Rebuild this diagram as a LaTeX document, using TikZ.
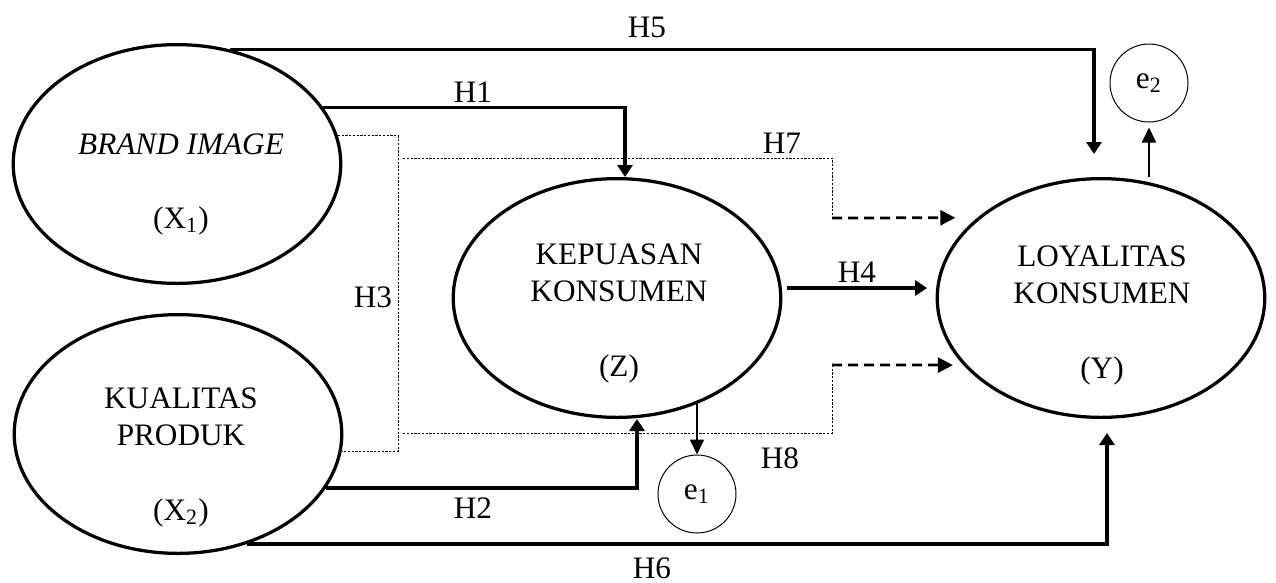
\documentclass[tikz,border=0pt]{standalone}
\usepackage{fontspec}
\setmainfont{Liberation Serif}
\usetikzlibrary{arrows.meta,shapes.geometric}

\begin{document}
\begin{tikzpicture}[x=0.4pt,y=-0.4pt,
  var/.style={ellipse,draw,line width=1.3pt,minimum width=131pt,minimum height=95.5pt,inner sep=0pt},
  err/.style={circle,draw,line width=0.4pt,minimum size=31.2pt,inner sep=0pt,font=\fontsize{12.5}{14}\selectfont},
  txt/.style={anchor=north,inner sep=0pt,align=center,font=\fontsize{12.5}{14.8}\selectfont},
  hyp/.style={inner sep=0pt,font=\fontsize{12.5}{14}\selectfont},
  direct/.style={line width=1.3pt,-{Triangle[length=4.8pt,width=6pt]}},
  resid/.style={line width=0.8pt,-{Triangle[length=6pt,width=5.6pt]}},
  med/.style={line width=0.4pt,dash pattern=on 0.9pt off 0.6pt},
  medtip/.style={line width=1.1pt,dash pattern=on 4pt off 2.4pt,-{Triangle[length=6pt,width=6pt]}}]
  \useasboundingbox (0,0) rectangle (1276,582);
  % latent variables
  \node[var] (bi) at (177,164) {};
  \node[var] (kq) at (178,434) {};
  \node[var] (kp) at (617,298) {};
  \node[var] (ly) at (1101,298) {};
  \node[txt] (bitxt) at (181,133) {\textit{BRAND IMAGE}\\[14.8pt](X\textsubscript{1})};
  \node[txt] (kqtxt) at (181,387) {KUALITAS\\PRODUK\\[15.3pt](X\textsubscript{2})};
  \node[txt] (kptxt) at (619,243) {KEPUASAN\\KONSUMEN\\[15.3pt](Z)};
  \node[txt] (lytxt) at (1102,245) {LOYALITAS\\KONSUMEN\\[15.3pt](Y)};
  % error terms
  \node[err] (e1) at (697,494) {e\textsubscript{1}};
  \node[err] (e2) at (1149,83) {e\textsubscript{2}};
  % direct effects
  \draw[direct] (bi.21) -| ([xshift=3.2pt]kp.north);
  \draw[direct] (kq.-20) -| ([xshift=8pt]kp.south);
  \draw[direct,shorten <=2pt,shorten >=3.4pt] ([yshift=4pt]kp.east) -- ([yshift=4pt]ly.west);
  \draw[direct,shorten >=9.2pt] (bi.65) -| ([xshift=-2.8pt]ly.north);
  \draw[direct,shorten >=5.6pt] (kq.-58) -| ([xshift=2.4pt]ly.south);
  % residuals
  \draw[resid] (e1.north |- kp.-52) -- (e1.north);
  \draw[resid,shorten >=2pt] (ly.north -| e2.south) -- (e2.south);
  % mediation paths
  \coordinate (h3x) at (398,0);
  \coordinate (h7s) at (403,158);
  \coordinate (h7k) at (832,218);
  \coordinate (h8s) at (403,433);
  \coordinate (h8k) at (832,365);
  \draw[med] (bi.10) -- (bi.10 -| h3x) -- (kq.-6 -| h3x) -- (kq.-6);
  \draw[med] (h7s) -| (h7k);
  \draw[medtip,shorten >=8.8pt] (h7k) -- (ly.147);
  \draw[med] (h8s) -| (h8k);
  \draw[medtip,shorten >=4.2pt] (h8k) -- (ly.206);
  % hypotheses
  \foreach \n/\x/\y in {H1/473/92, H2/473/508, H3/373/297, H4/857/272,
                        H5/647/27, H6/652/568, H7/782/143, H8/780/458}
    \node[hyp] (\n) at (\x,\y) {\n};
\end{tikzpicture}
\end{document}
